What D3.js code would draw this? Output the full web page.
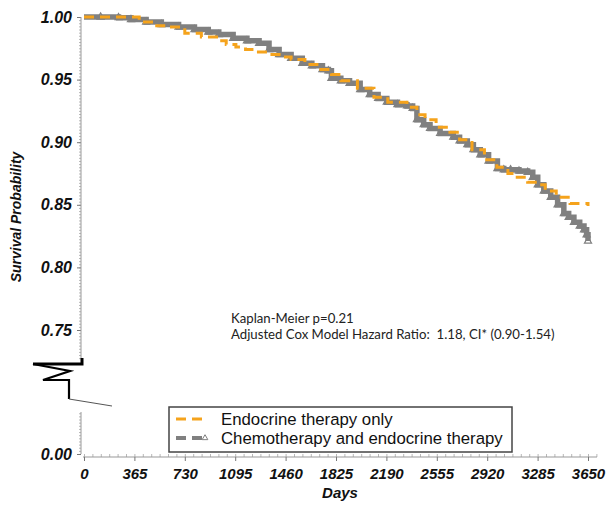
<!DOCTYPE html>
<html>
<head>
<meta charset="utf-8">
<script src="https://cdn.jsdelivr.net/npm/d3@7"></script>
<style>
  body { margin: 0; background: #fff; }
  svg { display: block; }
  .axis text { font-family: "Liberation Sans", Arial, sans-serif; font-weight: bold; font-style: italic; fill: #111; }
</style>
</head>
<body>
<svg id="chart"></svg>
<script>
// Kaplan-Meier curves (day, survival)
const endoDays = [0, 300, 400, 500, 600, 730, 850, 960, 1030, 1100, 1170, 1250, 1350, 1413, 1500, 1600, 1700, 1792, 1860, 1980, 2100, 2200, 2339, 2411, 2470, 2550, 2650, 2720, 2810, 2900, 2990, 3070, 3120, 3213, 3290, 3340, 3420, 3520, 3650];
const endoSurv = [1.000, 1.000, 0.996, 0.993, 0.992, 0.987, 0.984, 0.981, 0.978, 0.976, 0.974, 0.972, 0.970, 0.968, 0.966, 0.962, 0.958, 0.954, 0.949, 0.943, 0.936, 0.932, 0.928, 0.922, 0.918, 0.912, 0.908, 0.902, 0.894, 0.886, 0.880, 0.875, 0.872, 0.868, 0.866, 0.861, 0.856, 0.851, 0.849];

const chemoDays = [0, 120, 250, 340, 450, 560, 685, 800, 900, 976, 1080, 1180, 1268, 1340, 1413, 1500, 1581, 1650, 1727, 1770, 1792, 1860, 1923, 2000, 2069, 2130, 2193, 2270, 2339, 2380, 2411, 2460, 2506, 2579, 2674, 2720, 2776, 2820, 2870, 2930, 2994, 3040, 3089, 3150, 3213, 3250, 3286, 3330, 3380, 3430, 3475, 3510, 3548, 3590, 3621, 3640, 3650];
const chemoSurv = [1.000, 1.000, 0.9995, 0.998, 0.996, 0.994, 0.992, 0.990, 0.988, 0.986, 0.983, 0.981, 0.979, 0.974, 0.970, 0.967, 0.963, 0.961, 0.958, 0.957, 0.951, 0.949, 0.947, 0.942, 0.938, 0.935, 0.932, 0.930, 0.929, 0.927, 0.918, 0.914, 0.911, 0.907, 0.904, 0.901, 0.898, 0.894, 0.890, 0.885, 0.879, 0.878, 0.878, 0.877, 0.876, 0.872, 0.866, 0.861, 0.856, 0.850, 0.843, 0.840, 0.836, 0.833, 0.830, 0.826, 0.821];

const xTicks = [0, 365, 730, 1095, 1460, 1825, 2190, 2555, 2920, 3285, 3650];
const yTicksUpper = [0.75, 0.80, 0.85, 0.90, 0.95, 1.00];
const yTicksLower = [0.00];
const legendLabels = ["Endocrine therapy only", "Chemotherapy and endocrine therapy"];
const noteLines = ["Kaplan-Meier p=0.21", "Adjusted Cox Model Hazard Ratio:  1.18, CI* (0.90-1.54)"];

const width = 613, height = 512;
const orange = "#f5a31c", gray = "#808080";

const svg = d3.select("#chart").attr("width", width).attr("height", height);

const x = d3.scaleLinear().domain([0, 3650]).range([84, 588]);
const yTop = d3.scaleLinear().domain([0.75, 1.00]).range([330, 17]);
const yBot = d3.scaleLinear().domain([0, 0.0335]).range([454, 412]);
const axisX = 81;

// ---- y axis, upper part
const yAxisTop = svg.append("g").attr("class", "axis").attr("transform", `translate(${axisX},0)`);
yAxisTop.call(d3.axisLeft(yTop).tickValues(d3.range(0.7275, 1.0001, 0.0025)).tickSize(2).tickFormat(""))
  .call(g => g.select(".domain").remove())
  .call(g => g.selectAll(".tick line").attr("stroke", "#999").attr("stroke-width", 0.7));
yAxisTop.append("g")
  .call(d3.axisLeft(yTop).tickValues(yTicksUpper).tickSize(4).tickPadding(5).tickFormat(d3.format(".2f")))
  .call(g => g.select(".domain").remove())
  .call(g => g.selectAll(".tick line").attr("stroke", "#777"))
  .call(g => g.selectAll(".tick text").attr("font-size", 16));
yAxisTop.append("line").attr("x1", 0).attr("x2", 0).attr("y1", yTop(1)).attr("y2", 358)
  .attr("stroke", "#999").attr("stroke-width", 1);

// ---- y axis, lower part
const yAxisBot = svg.append("g").attr("class", "axis").attr("transform", `translate(${axisX},0)`);
yAxisBot.call(d3.axisLeft(yBot).tickValues(d3.range(0, 0.0336, 0.0025)).tickSize(2).tickFormat(""))
  .call(g => g.select(".domain").remove())
  .call(g => g.selectAll(".tick line").attr("stroke", "#999").attr("stroke-width", 0.7));
yAxisBot.append("g")
  .call(d3.axisLeft(yBot).tickValues(yTicksLower).tickSize(4).tickPadding(5).tickFormat(d3.format(".2f")))
  .call(g => g.select(".domain").remove())
  .call(g => g.selectAll(".tick line").attr("stroke", "#777"))
  .call(g => g.selectAll(".tick text").attr("font-size", 16));
yAxisBot.append("line").attr("x1", 0).attr("x2", 0).attr("y1", yBot.range()[1]).attr("y2", yBot(0))
  .attr("stroke", "#999").attr("stroke-width", 1);

// ---- axis break symbol
const brk = svg.append("g").attr("fill", "none").attr("stroke", "#000").attr("stroke-linejoin", "miter");
brk.append("path").attr("d", `M${axisX + 1},358 V364 H33`).attr("stroke-width", 3);
brk.append("path").attr("d", "M33,364 L70,371 L43,380 H69 V399").attr("stroke-width", 2.2);
brk.append("path").attr("d", "M69,399 L112,406").attr("stroke", "#555").attr("stroke-width", 1);

// ---- x axis
const xAxisY = 457;
const xAxisG = svg.append("g").attr("class", "axis").attr("transform", `translate(0,${xAxisY})`);
xAxisG.append("line").attr("x1", 83).attr("x2", 597).attr("stroke", "#999");
xAxisG.append("g")
  .call(d3.axisTop(x).tickValues(d3.range(0, 3750, 365 / 6)).tickSize(3).tickFormat(""))
  .call(g => g.select(".domain").remove())
  .call(g => g.selectAll(".tick line").attr("stroke", "#999").attr("stroke-width", 0.7));
xAxisG.append("g")
  .call(d3.axisBottom(x).tickValues(xTicks).tickSize(4).tickPadding(7).tickFormat(d3.format("d")))
  .call(g => g.select(".domain").remove())
  .call(g => g.selectAll(".tick line").attr("stroke", "#777"))
  .call(g => g.selectAll(".tick text").attr("font-size", 15));

// ---- axis titles
svg.append("text")
  .attr("transform", `translate(21,217) rotate(-90)`)
  .attr("text-anchor", "middle")
  .attr("font-family", "Liberation Sans, Arial, sans-serif")
  .attr("font-weight", "bold").attr("font-style", "italic").attr("font-size", 14)
  .attr("fill", "#111")
  .text("Survival Probability");
svg.append("text")
  .attr("x", 340).attr("y", 498)
  .attr("text-anchor", "middle")
  .attr("font-family", "Liberation Sans, Arial, sans-serif")
  .attr("font-weight", "bold").attr("font-style", "italic").attr("font-size", 15)
  .attr("fill", "#111")
  .text("Days");

// ---- curves
const endoData = endoDays.map((d, i) => ({ day: d, s: endoSurv[i] }));
const chemoData = chemoDays.map((d, i) => ({ day: d, s: chemoSurv[i] }));

const line = d3.line().x(d => x(d.day)).y(d => yTop(d.s)).curve(d3.curveStepAfter);

svg.append("path").datum(chemoData)
  .attr("fill", "none").attr("stroke", gray).attr("stroke-width", 5.5)
  .attr("d", line);
svg.append("g").selectAll("path").data(chemoData.slice(1)).join("path")
  .attr("transform", d => `translate(${x(d.day)},${yTop(d.s)})`)
  .attr("d", d3.symbol(d3.symbolTriangle, 22))
  .attr("fill", "none").attr("stroke", gray).attr("stroke-width", 1.2);

svg.append("path").datum(endoData)
  .attr("fill", "none").attr("stroke", orange).attr("stroke-width", 3)
  .attr("stroke-dasharray", "10,6")
  .attr("d", line);

// ---- annotation
svg.append("g").selectAll("text").data(noteLines).join("text")
  .attr("x", 231).attr("y", (d, i) => 323 + i * 16)
  .attr("font-family", "Lato, 'Open Sans', sans-serif").attr("font-size", 13.2)
  .attr("fill", "#222")
  .style("white-space", "pre")
  .text(d => d);

// ---- legend
const legend = svg.append("g");
legend.append("rect").attr("x", 169).attr("y", 407).attr("width", 343).attr("height", 45)
  .attr("fill", "#fff").attr("stroke", "#444").attr("stroke-width", 1.5);
const legendRows = legend.selectAll("g.row").data(legendLabels).join("g")
  .attr("class", "row")
  .attr("transform", (d, i) => `translate(176,${419 + i * 19})`);
legendRows.append("line")
  .attr("x1", 0).attr("x2", 32)
  .attr("stroke", (d, i) => i === 0 ? orange : gray)
  .attr("stroke-width", (d, i) => i === 0 ? 3 : 4)
  .attr("stroke-dasharray", "10,6");
legend.append("path")
  .attr("transform", "translate(205,438)")
  .attr("d", d3.symbol(d3.symbolTriangle, 14))
  .attr("fill", "none").attr("stroke", gray).attr("stroke-width", 1);
legendRows.append("text")
  .attr("x", 45).attr("y", 5.5)
  .attr("font-family", "Liberation Sans, Arial, sans-serif").attr("font-size", 16.8)
  .attr("fill", "#111")
  .text(d => d);
</script>
</body>
</html>
